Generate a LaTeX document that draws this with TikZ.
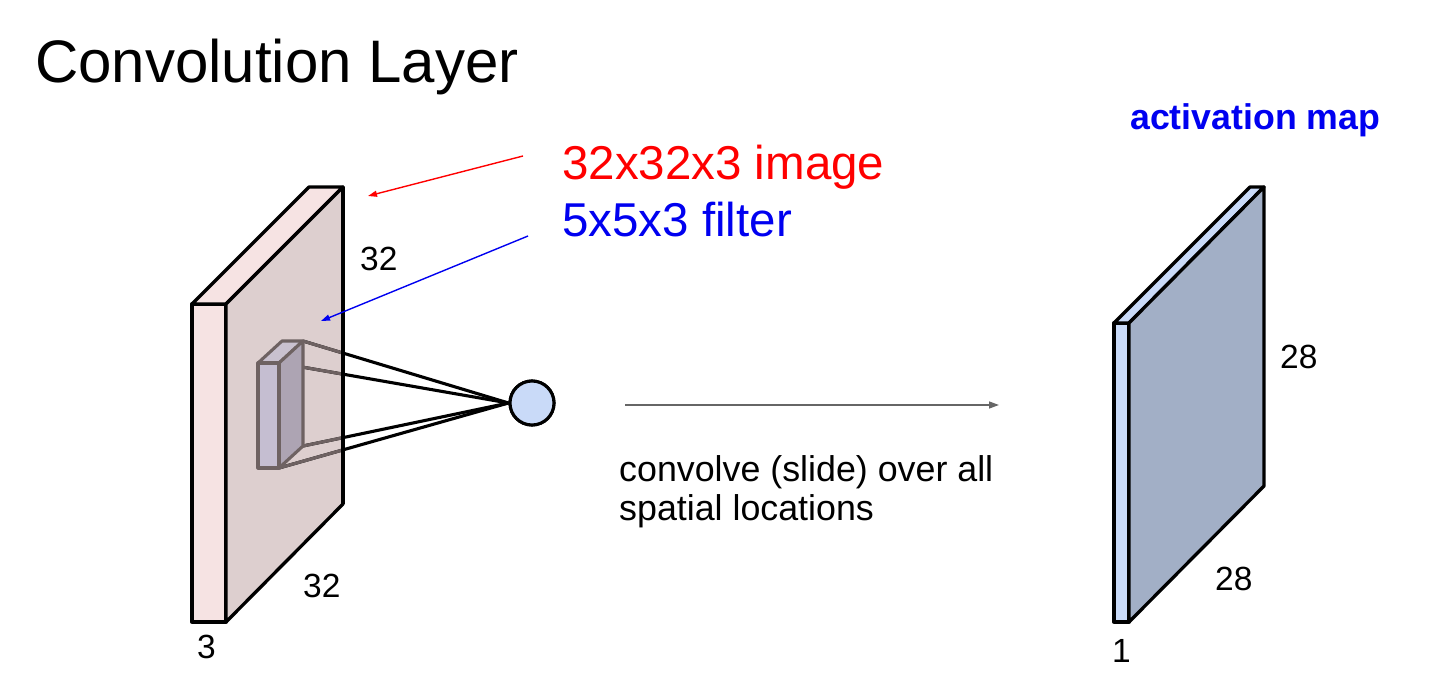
\documentclass[tikz,border=0pt]{standalone}
\usepackage{fontspec}
\setmainfont{Liberation Sans}
\usetikzlibrary{arrows.meta}
\definecolor{slabpink}{HTML}{F6E3E3}
\definecolor{slabface}{HTML}{DDCFCF}
\definecolor{filtfront}{HTML}{C5BED1}
\definecolor{filtside}{HTML}{ADA4B3}
\definecolor{filttop}{HTML}{C9C1CF}
\definecolor{filtedge}{HTML}{6E6262}
\definecolor{neuronblue}{HTML}{C9DAF8}
\definecolor{mapface}{HTML}{A2AFC6}
\definecolor{pureblue}{HTML}{0000F0}
\definecolor{arrowgrey}{HTML}{666666}
\begin{document}
\begin{tikzpicture}[x=1pt,y=-1pt,
  face/.style={draw=black,line width=3.3pt,line join=round},
  filtface/.style={draw=filtedge,line width=3.1pt,line join=round},
  conn/.style={line width=3.1pt},
  lbl/.style={anchor=base west,inner sep=0pt,font=\fontsize{33.5}{38}\selectfont},
  pointer/.style={line width=1.4pt,-{Triangle[length=9pt,width=6pt]}}]
\useasboundingbox (0,0) rectangle (1440,682);
% ---------- left slab ----------
\coordinate (A1) at (192,304);
\coordinate (A2) at (226,304);
\coordinate (A3) at (226,622);
\coordinate (A4) at (192,622);
\coordinate (B1) at (309,187);
\coordinate (B2) at (343,187);
\coordinate (B3) at (343,504);
\path[face,fill=slabpink] (A1) -- (A2) -- (A3) -- (A4) -- cycle;
\path[face,fill=slabpink] (A1) -- (B1) -- (B2) -- (A2) -- cycle;
\path[face,fill=slabface] (A2) -- (B2) -- (B3) -- (A3) -- cycle;
% ---------- filter ----------
\coordinate (F1) at (258,363);
\coordinate (F2) at (279,363);
\coordinate (F3) at (279,468);
\coordinate (F4) at (258,468);
\coordinate (G1) at (282,341);
\coordinate (G2) at (303,341);
\coordinate (G3) at (303,446);
\node[circle,draw=black,line width=3.1pt,fill=neuronblue,minimum size=44pt,inner sep=0pt] (neuron) at (532,403) {};
% connections: black outside slab, grey inside
\draw[conn,black] (G2) -- (neuron.west);
\draw[conn,black] (F2) -- (neuron.west);
\draw[conn,black] (G3) -- (neuron.west);
\draw[conn,black] (F3) -- (neuron.west);
\begin{scope}
  \clip (A2) -- (B2) -- (B3) -- (A3) -- cycle;
  \draw[conn,filtedge] (G2) -- (neuron.west);
  \draw[conn,filtedge] (F2) -- (neuron.west);
  \draw[conn,filtedge] (G3) -- (neuron.west);
  \draw[conn,filtedge] (F3) -- (neuron.west);
\end{scope}
\draw[line width=3.3pt] (B2) -- (B3);
\path[filtface,fill=filttop] (F1) -- (G1) -- (G2) -- (F2) -- cycle;
\path[filtface,fill=filtside] (F2) -- (G2) -- (G3) -- (F3) -- cycle;
\path[filtface,fill=filtfront] (F1) -- (F2) -- (F3) -- (F4) -- cycle;
\node[circle,draw=black,line width=3.1pt,fill=neuronblue,minimum size=44pt,inner sep=0pt] at (neuron) {};
% ---------- right slab ----------
\coordinate (C1) at (1114,323);
\coordinate (C2) at (1129,323);
\coordinate (C3) at (1129,622);
\coordinate (C4) at (1114,622);
\coordinate (D1) at (1250,187);
\coordinate (D2) at (1264,187);
\coordinate (D3) at (1264,486);
\path[face,fill=neuronblue] (C1) -- (C2) -- (C3) -- (C4) -- cycle;
\path[face,fill=neuronblue] (C1) -- (D1) -- (D2) -- (C2) -- cycle;
\path[face,fill=mapface] (C2) -- (D2) -- (D3) -- (C3) -- cycle;
% ---------- texts ----------
\node[anchor=base west,inner sep=0pt,font=\fontsize{60}{66}\selectfont] (title) at (35,83) {Convolution Layer};
\node[anchor=base west,inner sep=0pt,text=red,font=\fontsize{47.5}{52}\selectfont] (timage) at (562,179) {32x32x3 image};
\node[anchor=base west,inner sep=0pt,text=pureblue,font=\fontsize{47.5}{52}\selectfont] (tfilter) at (562,236) {5x5x3 filter};
\node[anchor=base west,inner sep=0pt,text=pureblue,font=\fontsize{35.7}{40}\selectfont\bfseries] (actmap) at (1130,130) {activation map};
\node[lbl] (l32a) at (360,270) {32};
\node[lbl] (l32b) at (303,597) {32};
\node[lbl] (l3) at (197,658) {3};
\node[lbl] (l28a) at (1280,368) {28};
\node[lbl] (l28b) at (1215,590) {28};
\node[lbl] (l1) at (1112,662) {1};
\node[anchor=base west,inner sep=0pt,font=\fontsize{35.8}{40}\selectfont] (conv1) at (619,481) {convolve (slide) over all};
\node[anchor=base west,inner sep=0pt,font=\fontsize{35.8}{40}\selectfont] (conv2) at (619,520) {spatial locations};
% ---------- pointers ----------
\coordinate (rs) at (523,156);
\coordinate (re) at (368,196);
\coordinate (bs) at (528,236);
\coordinate (be) at (321,321);
\draw[pointer,red] (rs) -- (re);
\draw[pointer,pureblue] (bs) -- (be);
\coordinate (gs) at (625,405);
\coordinate (ge) at (999,405);
\draw[line width=1.4pt,arrowgrey,-{Triangle[length=10pt,width=7pt]}] (gs) -- (ge);
\end{tikzpicture}
\end{document}
